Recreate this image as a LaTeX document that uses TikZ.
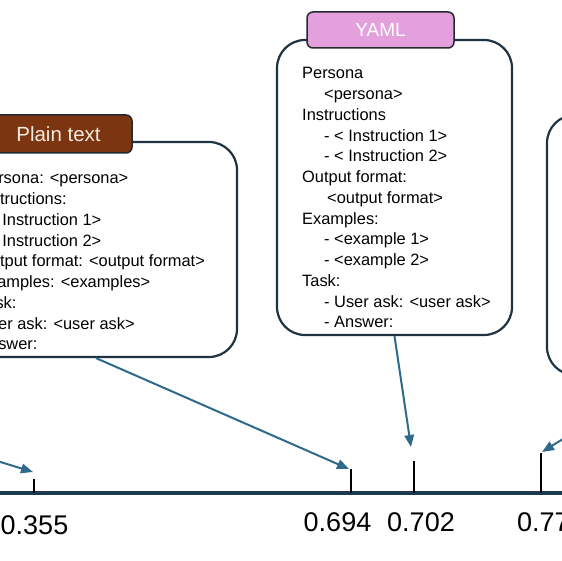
\documentclass[tikz,border=0pt]{standalone}
\usepackage{fontspec}
\setmainfont{Liberation Sans}
\usetikzlibrary{arrows.meta}
\definecolor{boxborder}{HTML}{1F3442}
\definecolor{tabborder}{HTML}{222A30}
\definecolor{arrowcol}{HTML}{2E6A8A}
\definecolor{axiscol}{HTML}{1B3A4E}
\definecolor{tabbrown}{HTML}{7B3511}
\definecolor{tabpink}{HTML}{E4A0DD}
\definecolor{tabcream}{HTML}{F6EADF}
\begin{document}
\begin{tikzpicture}[x=1pt,y=-1pt,
  card/.style={draw=boxborder, line width=2.2pt, rounded corners=28pt, fill=white, inner sep=0pt},
  tabbox/.style={draw=tabborder, line width=1.5pt, rounded corners=6pt, minimum width=147pt, inner sep=0pt, text=white},
  body/.style={align=left, inner sep=0pt, anchor=north west, font=\fontsize{16.4}{20.75}\selectfont, text=black},
  pointer/.style={draw=arrowcol, line width=2pt, -{Triangle[length=12pt,width=9.5pt]}},
  tickmark/.style={draw=black, line width=2.5pt},
  value/.style={anchor=base, font=\fontsize{27}{31}\selectfont, inner sep=0pt, text=black},
]
\useasboundingbox (0,0) rectangle (562,561);
\clip (0,0) rectangle (562,561);
\fill[white] (0,0) rectangle (562,561);

% cards
\node[card, minimum width=282pt, minimum height=215pt] (plainbox) at (96,249.5) {};
\node[card, minimum width=235pt, minimum height=295pt] (yamlbox) at (394.5,187.5) {};
\node[card, minimum width=235pt, minimum height=260pt] (rightbox) at (664.5,245) {};

% tabs
\node[tabbox, fill=tabbrown, text=tabcream, minimum height=38pt, font=\fontsize{20.5}{24}\selectfont] (plaintab) at (58.5,134) {Plain text};
\node[tabbox, fill=tabpink, minimum height=36pt, font=\fontsize{19}{23}\selectfont] (yamltab) at (380.5,30) {YAML};

% texts
\node[body] (plaintext) at (-22,172.3) {Persona: <persona>\\
Instructions:\\
- < Instruction 1>\\
- < Instruction 2>\\
Output format: <output format>\\
Examples: <examples>\\
Task:\\
User ask: <user ask>\\
Answer:};

\node[body] (yamltext) at (302,67.3) {Persona\\
\hspace*{22pt}<persona>\\
Instructions\\
\hspace*{22pt}- < Instruction 1>\\
\hspace*{22pt}- < Instruction 2>\\
Output format:\\
\hspace*{25pt}<output format>\\
Examples:\\
\hspace*{22pt}- <example 1>\\
\hspace*{22pt}- <example 2>\\
Task:\\
\hspace*{22pt}- User ask: <user ask>\\
\hspace*{22pt}- Answer:};

% axis
\coordinate (axl) at (-10,493);
\coordinate (axr) at (572,493);
\draw[draw=axiscol, line width=4.5pt] (axl) -- (axr);

% ticks
\coordinate (t1) at (34,493);   \coordinate (t1top) at (34,479);
\coordinate (t2) at (351,493);  \coordinate (t2top) at (351,469);
\coordinate (t3) at (414,493);  \coordinate (t3top) at (414,461);
\coordinate (t4) at (541,493);  \coordinate (t4top) at (541,453);
\draw[tickmark] (t1) -- (t1top);
\draw[tickmark] (t2) -- (t2top);
\draw[tickmark] (t3) -- (t3top);
\draw[tickmark] (t4) -- (t4top);

% arrow targets
\coordinate (a1) at (33,472);
\coordinate (a2) at (349,469);
\coordinate (a3) at (411,447);
\coordinate (a4) at (542,452);
\coordinate (leftsrc) at (-120,425);

\draw[pointer] (leftsrc) -- (a1);
\draw[pointer] (plainbox.south) -- (a2);
\draw[pointer] (yamlbox.south) -- (a3);
\draw[pointer] (rightbox.south) -- (a4);

% values
\node[value] (v1) at (34.5,534) {0.355};
\node[value] (v2) at (337.5,531) {0.694};
\node[value] (v3) at (421,531) {0.702};
\node[value, anchor=base west] (v4) at (517,531) {0.77};
\end{tikzpicture}
\end{document}
